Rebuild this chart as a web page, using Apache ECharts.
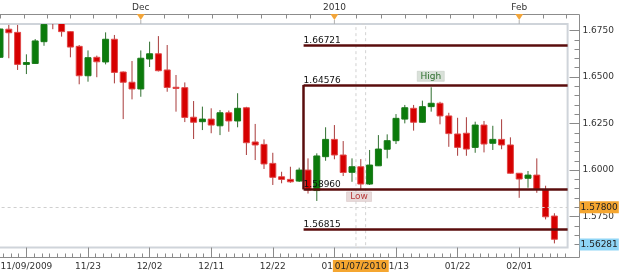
<!DOCTYPE html>
<html><head><meta charset="utf-8">
<style>html,body{margin:0;padding:0;background:#fff}#c{width:625px;height:278px}</style>
<script src="https://cdn.jsdelivr.net/npm/echarts@6/dist/echarts.min.js"></script>
</head><body><div id="c"></div><script>
const categories = ['11/04/2009','11/05/2009','11/06/2009','11/09/2009','11/10/2009','11/11/2009','11/12/2009','11/13/2009','11/16/2009','11/17/2009',
'11/23/2009','11/24/2009','11/25/2009','11/26/2009','11/27/2009','11/30/2009','12/01/2009','12/02/2009','12/03/2009','12/04/2009',
'12/07/2009','12/08/2009','12/09/2009','12/10/2009','12/11/2009','12/14/2009','12/15/2009','12/16/2009','12/17/2009','12/18/2009',
'12/21/2009','12/22/2009','12/23/2009','12/24/2009','12/28/2009','12/29/2009','12/30/2009','12/31/2009','01/04/2010','01/05/2010',
'01/06/2010','01/07/2010','01/08/2010','01/11/2010','01/12/2010','01/13/2010','01/14/2010','01/15/2010','01/18/2010','01/19/2010',
'01/20/2010','01/21/2010','01/22/2010','01/25/2010','01/26/2010','01/27/2010','01/28/2010','01/29/2010','01/31/2010','02/01/2010',
'02/02/2010','02/03/2010','02/04/2010','02/05/2010'];
const opens = [1.6606,1.6757,1.6740,1.6568,1.6573,1.6690,1.6840,1.6790,1.6744,1.6665,
1.6507,1.6606,1.6581,1.6703,1.6527,1.6472,1.6436,1.6597,1.6625,1.6538,
1.6445,1.6443,1.6284,1.6260,1.6274,1.6238,1.6308,1.6264,1.6335,1.6151,
1.6138,1.6036,1.5964,1.5950,1.5941,1.6000,1.5890,1.6072,1.6165,1.6081,
1.5988,1.6018,1.5925,1.6023,1.6112,1.6158,1.6274,1.6332,1.6257,1.6341,
1.6359,1.6291,1.6194,1.6198,1.6122,1.6242,1.6144,1.6165,1.6135,1.5983,
1.5956,1.5973,1.5893,1.5753];
const closes = [1.6758,1.6738,1.6568,1.6578,1.6694,1.6782,1.6810,1.6744,1.6661,1.6507,
1.6604,1.6582,1.6703,1.6525,1.6472,1.6436,1.6601,1.6625,1.6534,1.6444,
1.6439,1.6283,1.6257,1.6274,1.6242,1.6308,1.6264,1.6332,1.6147,1.6135,
1.6033,1.5961,1.5950,1.5937,1.6000,1.5893,1.6076,1.6165,1.6081,1.5987,
1.6018,1.5925,1.6027,1.6113,1.6158,1.6278,1.6335,1.6257,1.6341,1.6359,
1.6291,1.6196,1.6122,1.6113,1.6242,1.6140,1.6165,1.6135,1.5983,1.5952,
1.5973,1.5898,1.5749,1.56281];
const lows = [1.6604,1.6601,1.6538,1.6516,1.6571,1.6668,1.6757,1.6717,1.6606,1.6461,
1.6475,1.6499,1.6568,1.6466,1.6274,1.6380,1.6394,1.6554,1.6530,1.6421,
1.6314,1.6258,1.6167,1.6215,1.6198,1.6188,1.6206,1.6230,1.6081,1.6054,
1.6006,1.5920,1.5929,1.5932,1.5936,1.5874,1.5834,1.6050,1.6058,1.5968,
1.5937,1.5896,1.5920,1.6022,1.6063,1.6140,1.6251,1.6212,1.6255,1.6314,
1.6246,1.6125,1.6077,1.6077,1.6093,1.6095,1.6108,1.6112,1.5981,1.5851,
1.5905,1.5878,1.5735,1.5606];
const highs = [1.6760,1.6780,1.6780,1.6622,1.6704,1.6792,1.6860,1.6800,1.6746,1.6672,
1.6643,1.6615,1.6740,1.6726,1.6530,1.6586,1.6643,1.6690,1.6720,1.6672,
1.6511,1.6471,1.6371,1.6341,1.6332,1.6323,1.6320,1.6413,1.6340,1.6248,
1.6165,1.6093,1.5991,1.6018,1.6013,1.6063,1.6090,1.6230,1.6242,1.6156,
1.6063,1.6059,1.6108,1.6188,1.6192,1.6301,1.6350,1.6350,1.6373,1.6445,
1.6367,1.6308,1.6281,1.6284,1.6260,1.6264,1.6238,1.6273,1.6176,1.5983,
1.5995,1.6063,1.5916,1.5768];

const dateTickIndex = [3,10,17,24,31,38,45,52,59];
const priceTicks = [1.575,1.600,1.625,1.650,1.675];
const topMarkers = ['Dec','2010','Feb'];
const topMarkerIndex = [16,38,59];
const topTicks = [0,2.76,5.42,8.03,10.6,13.22,15.91,18.67,21.4,24.17,26.97,29.74,32.5,35.23,37.99,40.53,43.3,46.02,48.49,51.14,53.78,56.44,59.01,61.74,64.4];
const levels = [1.66721,1.64576,1.58960,1.56815];
const rangeHigh = 1.64576, rangeLow = 1.58960;
const levelStartIndex = 34.5;
const cursorIndex = 41, cursorPrice = 1.578;
const lastPrice = 1.56281;
const highTag = {text:'High', index:48.95, value:1.6504};
const lowTag = {text:'Low', index:40.8, value:1.5857};
const xMin = -0.5, xMax = 64.5, yMin = 1.5584, yMax = 1.6785;

const minorDateTicks = [];
for (let k = -4; k <= 70; k++) minorDateTicks.push(3 + k * 7 / 8);
const minorPriceTicks = [];
for (let k = 0; k <= 23; k++) minorPriceTicks.push(Math.round((1.560 + k * 0.005) * 1000) / 1000);

const FONT = 'DejaVu Sans';
const tickColor = '#8a8a8a';
const labelStyle = {fontFamily: FONT, fontSize: 9, color: '#333'};
const HIDDEN_LINE = {color: 'rgba(0,0,0,0)', width: 1, type: 'solid'};

const chart = echarts.init(document.getElementById('c'), null, {renderer: 'canvas'});

const candleData = opens.map((o, i) => [i, o, closes[i], lows[i], highs[i]]);

const markLineData = [];
levels.forEach(v => {
  markLineData.push([
    {coord: [levelStartIndex, v], label: {show: true, position: 'insideStartTop', formatter: v.toFixed(5), distance: [0, 0],
      fontFamily: FONT, fontSize: 9, color: '#111'}},
    {coord: [xMax, v]}
  ]);
});
markLineData.push([{coord: [levelStartIndex, rangeHigh], label: {show: false}}, {coord: [levelStartIndex, rangeLow]}]);
markLineData.push({yAxis: cursorPrice, lineStyle: {color: '#cfcfcf', width: 1, type: [3, 3]},
  label: {show: true, position: 'end', distance: 12, formatter: cursorPrice.toFixed(5), backgroundColor: '#f5a630',
    padding: [2, 1, 1, 1], fontFamily: FONT, fontSize: 9, color: '#222'}});
markLineData.push({yAxis: lastPrice, lineStyle: HIDDEN_LINE,
  label: {show: true, position: 'end', distance: 12, formatter: lastPrice.toFixed(5), backgroundColor: '#8fd5f6',
    padding: [2, 1, 1, 1], fontFamily: FONT, fontSize: 9, color: '#222'}});
markLineData.push({xAxis: cursorIndex, lineStyle: HIDDEN_LINE,
  label: {show: true, position: 'start', distance: 12.5, formatter: categories[cursorIndex], backgroundColor: '#f5a630',
    padding: [2, 2, 1, 2], fontFamily: FONT, fontSize: 9, color: '#222'}});

const markPointData = [
  {coord: [highTag.index, highTag.value], symbol: 'rect', symbolSize: [27, 10],
    itemStyle: {color: '#d9e1d9', borderColor: '#c3ccc3', borderWidth: 0.5},
    label: {show: true, position: 'inside', formatter: highTag.text, fontFamily: FONT, fontSize: 9, color: '#2e6e2e'}},
  {coord: [lowTag.index, lowTag.value], symbol: 'rect', symbolSize: [25, 9.5],
    itemStyle: {color: '#e8dada', borderColor: '#d6c4c4', borderWidth: 0.5},
    label: {show: true, position: 'inside', formatter: lowTag.text, fontFamily: FONT, fontSize: 9, color: '#b83a3a'}}
];
topMarkerIndex.forEach(ix => {
  markPointData.push({coord: [ix, yMax], symbol: 'rect', symbolSize: [1, 4], symbolOffset: [0, -2],
    itemStyle: {color: '#b0b0b0'}, label: {show: false}});
  markPointData.push({coord: [ix, yMax], symbol: 'path://M0,0 L8,0 L4,6 Z', symbolSize: [8, 6], symbolOffset: [0, -7],
    itemStyle: {color: '#f2a53a'}, label: {show: false}});
});

const option = {
  animation: false,
  backgroundColor: '#fff',
  textStyle: {fontFamily: FONT},
  grid: [
    {left: -4.4, right: 57.4, top: 24, bottom: 30.5, show: true, backgroundColor: '#fff',
      borderColor: '#cfd4da', borderWidth: 2, outerBoundsMode: 'none', containLabel: false},
    {left: -10, right: 45.5, top: 14.5, bottom: 20.5, show: true, backgroundColor: 'transparent',
      borderColor: '#8c8c8c', borderWidth: 1, outerBoundsMode: 'none', containLabel: false}
  ],
  xAxis: [
    {type: 'value', gridIndex: 0, min: xMin, max: xMax, position: 'bottom', offset: 10,
      axisLine: {show: false, onZero: false}, splitLine: {show: false},
      axisTick: {show: true, inside: true, length: 10, customValues: dateTickIndex, lineStyle: {color: tickColor}},
      axisLabel: Object.assign({show: true, customValues: dateTickIndex, margin: 5,
        formatter: v => { const d = categories[Math.round(v)]; return Math.round(v) === dateTickIndex[0] ? d : d.slice(0, 5); }}, labelStyle)},
    {type: 'value', gridIndex: 0, min: xMin, max: xMax, position: 'bottom', offset: 10,
      axisLine: {show: false, onZero: false}, splitLine: {show: false}, axisLabel: {show: false},
      axisTick: {show: true, inside: true, length: 4, customValues: minorDateTicks, lineStyle: {color: tickColor}}},
    {type: 'value', gridIndex: 0, min: xMin, max: xMax, position: 'top', offset: 9.5,
      axisLine: {show: false, onZero: false}, splitLine: {show: false},
      axisTick: {show: true, inside: true, length: 4, customValues: topTicks, lineStyle: {color: tickColor}},
      axisLabel: Object.assign({show: true, customValues: topMarkerIndex, margin: 2,
        formatter: v => topMarkers[topMarkerIndex.indexOf(Math.round(v))]}, labelStyle)}
  ],
  yAxis: [
    {type: 'value', gridIndex: 0, min: yMin, max: yMax, position: 'right', offset: 11.9,
      axisLine: {show: false, onZero: false}, splitLine: {show: false},
      axisTick: {show: true, inside: true, length: 10, customValues: priceTicks, lineStyle: {color: tickColor}},
      axisLabel: Object.assign({show: true, customValues: priceTicks, margin: 3, formatter: v => v.toFixed(4)}, labelStyle)},
    {type: 'value', gridIndex: 0, min: yMin, max: yMax, position: 'right', offset: 11.9,
      axisLine: {show: false, onZero: false}, splitLine: {show: false}, axisLabel: {show: false},
      axisTick: {show: true, inside: true, length: 5, customValues: minorPriceTicks, lineStyle: {color: tickColor}}}
  ],
  series: [
    {
      type: 'custom', name: 'EUR/USD', xAxisIndex: 0, yAxisIndex: 0, clip: true,
      data: candleData,
      encode: {x: 0, y: [1, 2, 3, 4]},
      renderItem: (params, api) => {
        const i = api.value(0), o = api.value(1), c = api.value(2), l = api.value(3), h = api.value(4);
        const pO = api.coord([i, o]), pC = api.coord([i, c]), pL = api.coord([i, l]), pH = api.coord([i, h]);
        const bw = api.size([1, 0])[0] * 0.68;
        const up = c > o;
        const top = Math.min(pO[1], pC[1]);
        const ht = Math.max(Math.abs(pO[1] - pC[1]), 1);
        return {type: 'group', children: [
          {type: 'line', shape: {x1: pO[0], y1: pH[1], x2: pO[0], y2: pL[1]},
            style: {stroke: up ? '#2f6f2f' : '#a83a3a', lineWidth: 1}},
          {type: 'rect', shape: {x: pO[0] - bw / 2, y: top, width: bw, height: ht},
            style: {fill: up ? '#0b7b0b' : '#d60000', stroke: up ? '#1a7a1a' : '#e04848', lineWidth: 1}}
        ]};
      }
    },
    {
      type: 'line', name: 'levels', xAxisIndex: 0, yAxisIndex: 0, data: [], clip: false, silent: true,
      markArea: {silent: true, data: [[{xAxis: 40.45}, {xAxis: 41.55}]],
        itemStyle: {color: 'rgba(0,0,0,0)', borderColor: '#d2d2d2', borderWidth: 1, borderType: [3, 3]}, label: {show: false}},
      markLine: {silent: true, symbol: ['none', 'none'], animation: false,
        lineStyle: {color: '#5a0c0c', width: 2.5, type: 'solid'}, label: {show: false}, data: markLineData},
      markPoint: {silent: true, animation: false, data: markPointData}
    }
  ]
};
chart.setOption(option);
</script></body></html>
